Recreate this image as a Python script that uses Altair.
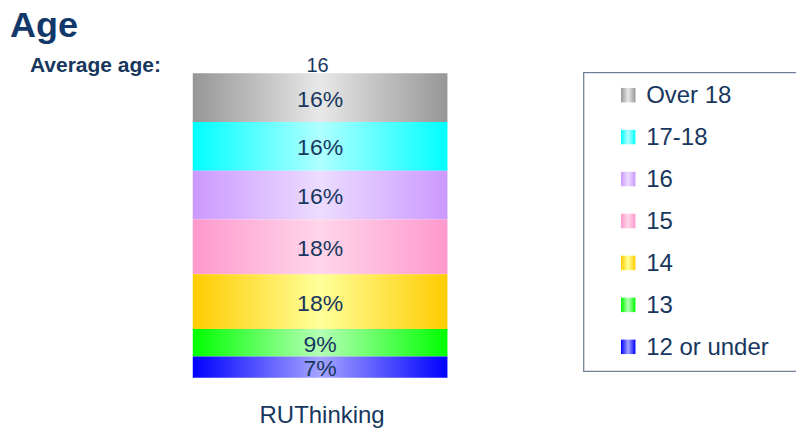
import altair as alt
import pandas as pd

# ---- data ----
categories = ["Over 18", "17-18", "16", "15", "14", "13", "12 or under"]
percentages = [16, 16, 16, 18, 18, 9, 7]
group_name = "RUThinking"
average_age = 16
title_text = "Age"
avg_label = "Average age:"

edge_colors = ["#969696", "#00ffff", "#cc99ff", "#ff99cc", "#ffcc00", "#00ff00", "#0000ff"]
center_colors = ["#e8e8e8", "#b0ffff", "#ecdcff", "#ffd6ea", "#ffff99", "#b6ffb6", "#a4a4ff"]

NAVY = "#17375e"
TITLE = "#12386a"
BORDER = "#4a6280"
FONT = "Liberation Sans"

n = len(categories)
df = pd.DataFrame({
    "cat": categories,
    "pct": percentages,
    "order": list(range(n - 1, -1, -1)),
    "group": [group_name] * n,
})


def grad(i):
    return alt.LinearGradient(
        gradient="linear", x1=0, x2=1, y1=0, y2=0,
        stops=[
            alt.GradientStop(offset=0, color=edge_colors[i]),
            alt.GradientStop(offset=0.5, color=center_colors[i]),
            alt.GradientStop(offset=1, color=edge_colors[i]),
        ],
    )


xs = alt.X("group:N", axis=None, scale=alt.Scale(paddingInner=0, paddingOuter=0))
ys = alt.Scale(domain=[0, 100], nice=False)

base = alt.Chart(df).transform_stack(
    stack="pct", groupby=["group"], as_=["y0", "y1"],
    sort=[alt.SortField("order", order="ascending")],
)

bars = [
    base.transform_filter(alt.datum.cat == c)
    .mark_bar(color=grad(i))
    .encode(x=xs, y=alt.Y("y0:Q", axis=None, scale=ys), y2="y1:Q")
    for i, c in enumerate(categories)
]

pct_text = base.transform_calculate(
    mid="(datum.y0 + datum.y1) / 2", label="datum.pct + '%'"
).mark_text(font=FONT, fontSize=23, color=NAVY, baseline="middle", dy=2).encode(
    x=xs, y=alt.Y("mid:Q", axis=None, scale=ys), text="label:N"
)

grp_text = alt.Chart(pd.DataFrame({"group": [group_name]})).mark_text(
    font=FONT, fontSize=24, color=NAVY, baseline="alphabetic", dx=2
).encode(x=xs, y=alt.value(350), text="group:N")

ann = pd.DataFrame({"title": [title_text], "avg_label": [avg_label], "avg": [average_age]})
t_title = alt.Chart(ann).mark_text(
    font=FONT, fontSize=36, fontWeight="bold", color=TITLE, align="left", baseline="top"
).encode(x=alt.value(-183), y=alt.value(-64), text="title:N")
t_avg_label = alt.Chart(ann).mark_text(
    font=FONT, fontSize=21, fontWeight="bold", color=NAVY, align="left", baseline="alphabetic"
).encode(x=alt.value(-163), y=alt.value(-1), text="avg_label:N")
t_avg = alt.Chart(ann).mark_text(
    font=FONT, fontSize=20, color=NAVY, align="center", baseline="alphabetic"
).encode(x=alt.value(125), y=alt.value(-1), text="avg:Q")

left = alt.layer(*bars, pct_text, grp_text, t_title, t_avg_label, t_avg).properties(
    width=255, height=305
)

# ---- legend panel ----
leg_df = pd.DataFrame({"cat": categories})
ly = alt.Y("cat:N", sort=categories, axis=None,
           scale=alt.Scale(type="point", range=[22, 274], padding=0))

squares = [
    alt.Chart(leg_df).transform_filter(alt.datum.cat == c)
    .mark_point(shape="square", size=210, filled=True, color=grad(i), opacity=1, strokeWidth=0)
    .encode(x=alt.value(45), y=ly)
    for i, c in enumerate(categories)
]

leg_text = alt.Chart(leg_df).mark_text(
    font=FONT, fontSize=24, color=NAVY, align="left", baseline="middle", dy=1
).encode(x=alt.value(63), y=ly, text="cat:N")

one = pd.DataFrame({"k": [0]})
r_top = alt.Chart(one).mark_rule(color=BORDER, strokeWidth=1).encode(
    x=alt.value(0), x2=alt.value(213), y=alt.value(-0.5))
r_bot = alt.Chart(one).mark_rule(color=BORDER, strokeWidth=1).encode(
    x=alt.value(0), x2=alt.value(213), y=alt.value(298.5))
r_left = alt.Chart(one).mark_rule(color=BORDER, strokeWidth=1).encode(
    x=alt.value(0.5), y=alt.value(-1), y2=alt.value(299))

legend = alt.layer(*squares, leg_text, r_top, r_bot, r_left).properties(width=213, height=300)

chart = alt.hconcat(left, legend, spacing=136, bounds="flush").properties(
    padding={"left": 2, "top": 0, "right": 0, "bottom": 0}
).configure_view(strokeWidth=0)

chart.save("out.html", embed_options={"renderer": "svg", "actions": False})
